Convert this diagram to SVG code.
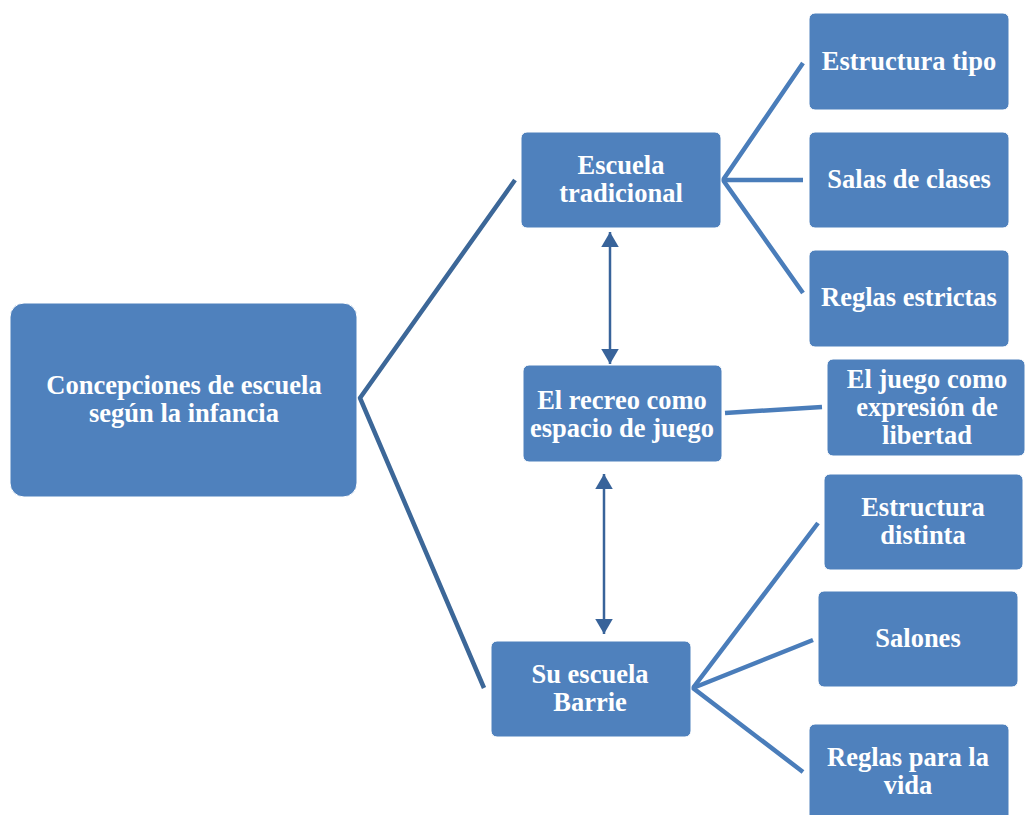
<svg xmlns="http://www.w3.org/2000/svg" width="1026" height="815" viewBox="0 0 1026 815">
<defs>
<style>
.box{fill:#4F81BD;stroke:#ffffff;stroke-width:1}
.t{font-family:"Liberation Serif","Times New Roman",serif;font-weight:bold;font-size:26.5px;fill:#ffffff;text-anchor:middle}
.main{stroke:#3C6798;stroke-width:4.5;fill:none}
.sub{stroke:#4A7DBA;stroke-width:4.5;fill:none}
.arr{stroke:#38639A;stroke-width:2.5;fill:none;marker-start:url(#ah);marker-end:url(#ah)}
</style>
<marker id="ah" viewBox="0 0 10 10" refX="10" refY="5" markerWidth="6" markerHeight="7" preserveAspectRatio="none" orient="auto-start-reverse" markerUnits="strokeWidth">
<path d="M0,0 L10,5 L0,10 Z" fill="#38639A"/>
</marker>
</defs>
<rect width="1026" height="815" fill="#ffffff"/>
<g id="connectors">
<polyline class="main" points="515,180 360,398 484,688"/>
<polyline class="sub" points="803,63 723,180 803,293"/>
<line class="sub" x1="723" y1="180" x2="803" y2="180"/>
<line class="sub" x1="725" y1="413" x2="822" y2="407"/>
<polyline class="sub" points="818,523 693,688 803,772"/>
<line class="sub" x1="693" y1="688" x2="813" y2="640"/>
<line class="arr" x1="610" y1="232" x2="610" y2="364"/>
<line class="arr" x1="604" y1="474" x2="604" y2="634"/>
</g>
<g id="n-main">
<rect class="box" x="10" y="303" width="347" height="194" rx="14"/>
<text class="t" x="184" y="394">Concepciones de escuela</text>
<text class="t" x="184" y="422">según la infancia</text>
</g>
<g id="n-tradicional">
<rect class="box" x="521" y="132" width="200" height="96" rx="6"/>
<text class="t" x="621" y="174">Escuela</text>
<text class="t" x="621" y="202">tradicional</text>
</g>
<g id="n-recreo">
<rect class="box" x="523" y="365" width="199" height="97" rx="6"/>
<text class="t" x="622" y="409">El recreo como</text>
<text class="t" x="622" y="437">espacio de juego</text>
</g>
<g id="n-barrie">
<rect class="box" x="491" y="641" width="200" height="96" rx="6"/>
<text class="t" x="590" y="683">Su escuela</text>
<text class="t" x="590" y="711">Barrie</text>
</g>
<g id="n-estructura-tipo">
<rect class="box" x="809" y="13" width="200" height="97" rx="6"/>
<text class="t" x="909" y="70">Estructura tipo</text>
</g>
<g id="n-salas">
<rect class="box" x="809" y="132" width="200" height="96" rx="6"/>
<text class="t" x="909" y="188">Salas de clases</text>
</g>
<g id="n-reglas-estrictas">
<rect class="box" x="809" y="250" width="200" height="97" rx="6"/>
<text class="t" x="909" y="306">Reglas estrictas</text>
</g>
<g id="n-juego-libertad">
<rect class="box" x="827" y="359" width="198" height="97" rx="6"/>
<text class="t" x="927" y="388">El juego como</text>
<text class="t" x="927" y="416">expresión de</text>
<text class="t" x="927" y="444">libertad</text>
</g>
<g id="n-estructura-distinta">
<rect class="box" x="824" y="474" width="199" height="96" rx="6"/>
<text class="t" x="923" y="516">Estructura</text>
<text class="t" x="923" y="544">distinta</text>
</g>
<g id="n-salones">
<rect class="box" x="818" y="591" width="200" height="96" rx="6"/>
<text class="t" x="918" y="647">Salones</text>
</g>
<g id="n-reglas-vida">
<rect class="box" x="809" y="724" width="200" height="100" rx="6"/>
<text class="t" x="908" y="766">Reglas para la</text>
<text class="t" x="908" y="794">vida</text>
</g>
</svg>
